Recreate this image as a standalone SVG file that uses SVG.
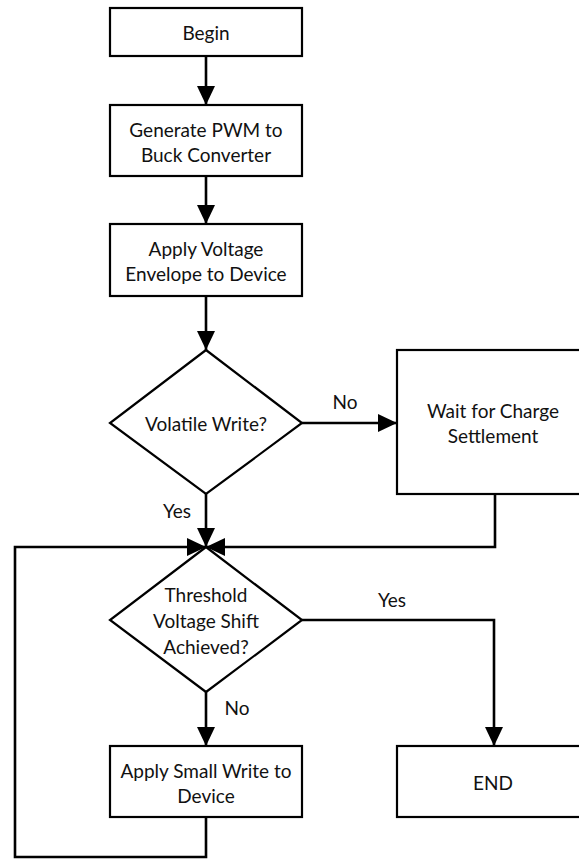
<svg xmlns="http://www.w3.org/2000/svg" width="579" height="859" viewBox="0 0 579 859">
<style>
.box{fill:#fff;stroke:#000;stroke-width:2.2}
.t{font-family:Lato,"Open Sans","Liberation Sans",sans-serif;font-size:19px;fill:#111;text-anchor:middle;dominant-baseline:central}
.c{fill:none;stroke:#000;stroke-width:2.6}
</style>
<defs>
<marker id="ah" markerUnits="userSpaceOnUse" markerWidth="20" markerHeight="20" viewBox="0 0 20 20" refX="19" refY="10" orient="auto">
<path d="M0,1 L19,10 L0,19 Z" fill="#000"/>
</marker>
</defs>
<rect width="579" height="859" fill="#fff"/>
<g id="connectors">
<path class="c" d="M206,56 V105" marker-end="url(#ah)"/>
<path class="c" d="M206,176 V224" marker-end="url(#ah)"/>
<path class="c" d="M206,296 V350" marker-end="url(#ah)"/>
<path class="c" d="M302,423 H397" marker-end="url(#ah)"/>
<path class="c" d="M206,494 V547" marker-end="url(#ah)"/>
<path class="c" d="M495,494 V547 H206" marker-end="url(#ah)"/>
<path class="c" d="M206,817 V857 H15 V547 H206" marker-end="url(#ah)"/>
<path class="c" d="M206,692 V746" marker-end="url(#ah)"/>
<path class="c" d="M302,620 H494 V746" marker-end="url(#ah)"/>
<text class="t" x="345" y="401">No</text>
<text class="t" x="177" y="510">Yes</text>
<text class="t" x="392" y="599">Yes</text>
<text class="t" x="237" y="707">No</text>
</g>
<g id="begin">
<rect class="box" x="110" y="8" width="192" height="48"/>
<text class="t" x="206" y="32">Begin</text>
</g>
<g id="generate">
<rect class="box" x="110" y="105" width="192" height="71"/>
<text class="t" x="206" y="129">Generate PWM to</text>
<text class="t" x="206" y="154">Buck Converter</text>
</g>
<g id="apply-voltage">
<rect class="box" x="110" y="224" width="192" height="72"/>
<text class="t" x="206" y="248">Apply Voltage</text>
<text class="t" x="206" y="273">Envelope to Device</text>
</g>
<g id="volatile">
<path class="box" d="M206,350 L302,423 L206,494 L110,423 Z"/>
<text class="t" x="206" y="423">Volatile Write?</text>
</g>
<g id="wait">
<rect class="box" x="397" y="350" width="190" height="144"/>
<text class="t" x="493" y="410">Wait for Charge</text>
<text class="t" x="493" y="435">Settlement</text>
</g>
<g id="threshold">
<path class="box" d="M206,547 L302,620 L206,692 L110,620 Z"/>
<text class="t" x="206" y="594">Threshold</text>
<text class="t" x="206" y="620">Voltage Shift</text>
<text class="t" x="206" y="646">Achieved?</text>
</g>
<g id="small-write">
<rect class="box" x="110" y="746" width="192" height="71"/>
<text class="t" x="206" y="770">Apply Small Write to</text>
<text class="t" x="206" y="795">Device</text>
</g>
<g id="end">
<rect class="box" x="397" y="746" width="190" height="71"/>
<text class="t" x="493" y="782">END</text>
</g>
</svg>
